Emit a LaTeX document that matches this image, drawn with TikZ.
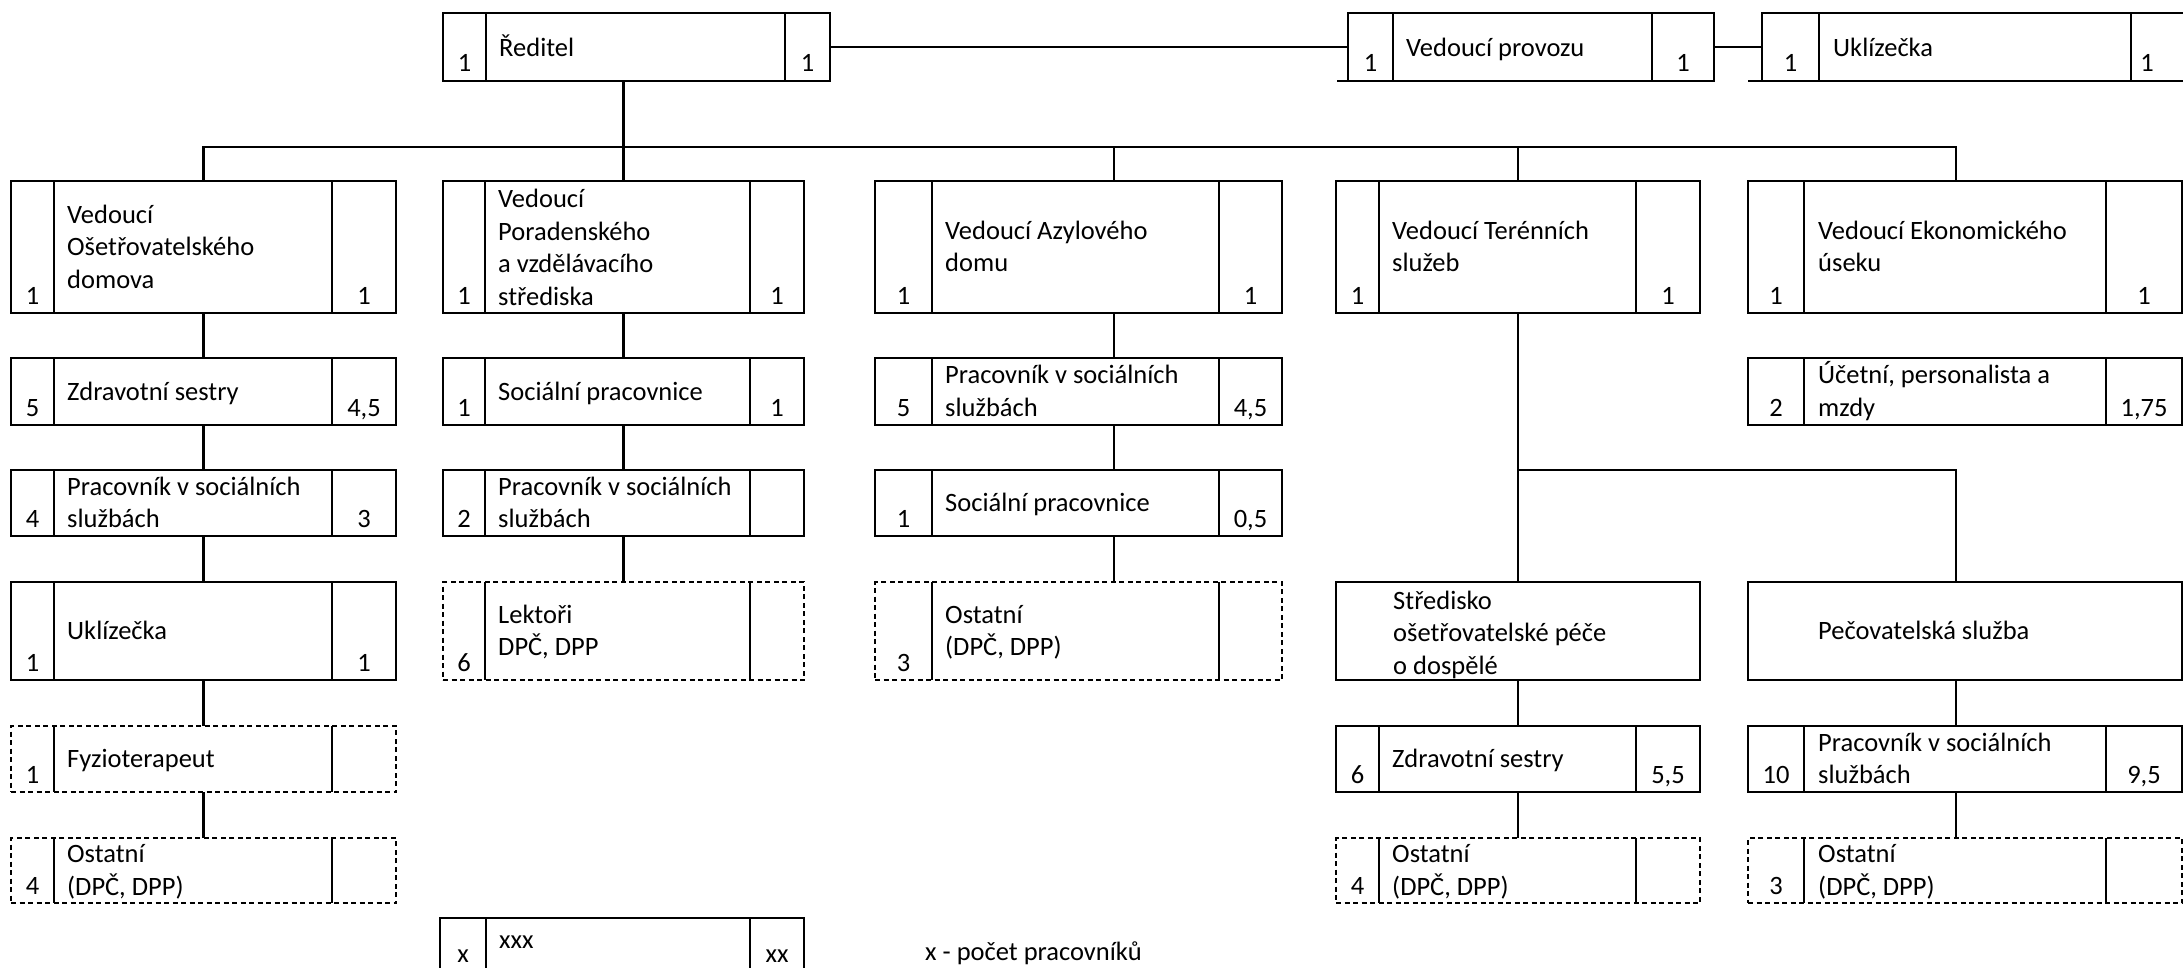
\documentclass[tikz,border=0pt]{standalone}
\usepackage{fontspec}
\setmainfont{Carlito}
\usetikzlibrary{fit}
\tikzset{
  plainnode/.style={inner sep=0pt, outer sep=0pt},
  solidbox/.style={plainnode, draw, line width=2.7pt},
  dashbox/.style={plainnode, draw, line width=2.2pt, dash pattern=on 5pt off 3.5pt},
  divline/.style={line width=2.7pt},
  conn/.style={line width=2.4pt},
  maintxt/.style={inner sep=0pt, anchor=west, align=left, font=\fontsize{26.5}{32.5}\selectfont},
  numtxt/.style={inner sep=0pt, anchor=base, font=\fontsize{26.5}{32.5}\selectfont},
}
\newcommand\obox[6]{\node[#2, fit={(#3,#4) (#5,#6)}] (#1) {};}
\newcommand\divs[4]{\draw[divline] (#1,#3) -- (#1,#4); \draw[divline] (#2,#3) -- (#2,#4);}
\begin{document}
\begin{tikzpicture}[x=1pt,y=-1pt]
\fill[white] (0,0) rectangle (2183,968);
\useasboundingbox (0,0) rectangle (2183,968);
\clip (0,0) rectangle (2183,968);

% ---------- top row
\obox{red}{solidbox}{443}{13}{830}{81} \divs{486}{785}{13}{81}
\node[maintxt] (red-t) at (499,50) {\strut Ředitel};
\node[numtxt] (red-l) at (464.5,72) {1};
\node[numtxt] (red-r) at (807.5,72) {1};

\obox{prov}{solidbox}{1348}{13}{1714}{81} \divs{1393}{1652}{13}{81}
\node[maintxt] (prov-t) at (1406,50) {\strut Vedoucí provozu};
\node[numtxt] (prov-l) at (1370.5,72) {1};
\node[numtxt] (prov-r) at (1683,72) {1};
\draw[divline] (1337,81) -- (prov.south west);

\obox{ukl}{solidbox}{1762}{13}{2200}{81} \divs{1819}{2131}{13}{81}
\node[maintxt] (ukl-t) at (1833,50) {\strut Uklízečka};
\node[numtxt] (ukl-l) at (1790.5,72) {1};
\node[numtxt] (ukl-r) at (2147,72) {1};
\draw[divline] (1748,81) -- (ukl.south west);

% ---------- column 1
\obox{a2}{solidbox}{11}{181}{396}{313} \divs{54}{332}{181}{313}
\node[maintxt] (a2-t) at (67,249) {\strut Vedoucí\\\strut Ošetřovatelského\\\strut domova};
\node[numtxt] (a2-l) at (32.5,304) {1};
\node[numtxt] (a2-r) at (364,304) {1};

\obox{a3}{solidbox}{11}{358}{396}{425} \divs{54}{332}{358}{425}
\node[maintxt] (a3-t) at (67,393.5) {\strut Zdravotní sestry};
\node[numtxt] (a3-l) at (32.5,416) {5};
\node[numtxt] (a3-r) at (364,416) {4,5};

\obox{a4}{solidbox}{11}{470}{396}{536} \divs{54}{332}{470}{536}
\node[maintxt] (a4-t) at (67,505) {\strut Pracovník v sociálních\\\strut službách};
\node[numtxt] (a4-l) at (32.5,527) {4};
\node[numtxt] (a4-r) at (364,527) {3};

\obox{a5}{solidbox}{11}{582}{396}{680} \divs{54}{332}{582}{680}
\node[maintxt] (a5-t) at (67,633) {\strut Uklízečka};
\node[numtxt] (a5-l) at (32.5,671) {1};
\node[numtxt] (a5-r) at (364,671) {1};

\obox{a6}{dashbox}{11}{726}{396}{792} \divs{54}{332}{726}{792}
\node[maintxt] (a6-t) at (67,761) {\strut Fyzioterapeut};
\node[numtxt] (a6-l) at (32.5,783) {1};

\obox{a7}{dashbox}{11}{838}{396}{903} \divs{54}{332}{838}{903}
\node[maintxt] (a7-t) at (67,872.5) {\strut Ostatní\\\strut (DPČ, DPP)};
\node[numtxt] (a7-l) at (32.5,894) {4};

% ---------- column 2
\obox{b2}{solidbox}{443}{181}{804}{313} \divs{485}{750}{181}{313}
\node[maintxt] (b2-t) at (498,250) {\strut Vedoucí\\\strut Poradenského\\\strut a vzdělávacího\\\strut střediska};
\node[numtxt] (b2-l) at (464,304) {1};
\node[numtxt] (b2-r) at (777,304) {1};

\obox{b3}{solidbox}{443}{358}{804}{425} \divs{485}{750}{358}{425}
\node[maintxt] (b3-t) at (498,393.5) {\strut Sociální pracovnice};
\node[numtxt] (b3-l) at (464,416) {1};
\node[numtxt] (b3-r) at (777,416) {1};

\obox{b4}{solidbox}{443}{470}{804}{536} \divs{485}{750}{470}{536}
\node[maintxt] (b4-t) at (498,505) {\strut Pracovník v sociálních\\\strut službách};
\node[numtxt] (b4-l) at (464,527) {2};

\obox{b5}{dashbox}{443}{582}{804}{680} \divs{485}{750}{582}{680}
\node[maintxt] (b5-t) at (498,633) {\strut Lektoři\\\strut DPČ, DPP};
\node[numtxt] (b5-l) at (464,671) {6};

% ---------- column 3
\obox{c2}{solidbox}{875}{181}{1282}{313} \divs{932}{1219}{181}{313}
\node[maintxt] (c2-t) at (945,249) {\strut Vedoucí Azylového\\\strut domu};
\node[numtxt] (c2-l) at (903.5,304) {1};
\node[numtxt] (c2-r) at (1250.5,304) {1};

\obox{c3}{solidbox}{875}{358}{1282}{425} \divs{932}{1219}{358}{425}
\node[maintxt] (c3-t) at (945,393.5) {\strut Pracovník v sociálních\\\strut službách};
\node[numtxt] (c3-l) at (903.5,416) {5};
\node[numtxt] (c3-r) at (1250.5,416) {4,5};

\obox{c4}{solidbox}{875}{470}{1282}{536} \divs{932}{1219}{470}{536}
\node[maintxt] (c4-t) at (945,505) {\strut Sociální pracovnice};
\node[numtxt] (c4-l) at (903.5,527) {1};
\node[numtxt] (c4-r) at (1250.5,527) {0,5};

\obox{c5}{dashbox}{875}{582}{1282}{680} \divs{932}{1219}{582}{680}
\node[maintxt] (c5-t) at (945,633) {\strut Ostatní\\\strut (DPČ, DPP)};
\node[numtxt] (c5-l) at (903.5,671) {3};

% ---------- column 4
\obox{d2}{solidbox}{1336}{181}{1700}{313} \divs{1379}{1636}{181}{313}
\node[maintxt] (d2-t) at (1392,249) {\strut Vedoucí Terénních\\\strut služeb};
\node[numtxt] (d2-l) at (1357.5,304) {1};
\node[numtxt] (d2-r) at (1668,304) {1};

\obox{d5}{solidbox}{1336}{582}{1700}{680}
\node[maintxt] (d5-t) at (1393,635) {\strut Středisko\\\strut ošetřovatelské péče\\\strut o dospělé};

\obox{d6}{solidbox}{1336}{726}{1700}{792} \divs{1379}{1636}{726}{792}
\node[maintxt] (d6-t) at (1392,761) {\strut Zdravotní sestry};
\node[numtxt] (d6-l) at (1357.5,783) {6};
\node[numtxt] (d6-r) at (1668,783) {5,5};

\obox{d7}{dashbox}{1336}{838}{1700}{903} \divs{1379}{1636}{838}{903}
\node[maintxt] (d7-t) at (1392,872.5) {\strut Ostatní\\\strut (DPČ, DPP)};
\node[numtxt] (d7-l) at (1357.5,894) {4};

% ---------- column 5
\obox{e2}{solidbox}{1748}{181}{2182}{313} \divs{1804}{2106}{181}{313}
\node[maintxt] (e2-t) at (1818,249) {\strut Vedoucí Ekonomického\\\strut úseku};
\node[numtxt] (e2-l) at (1776,304) {1};
\node[numtxt] (e2-r) at (2144,304) {1};

\obox{e3}{solidbox}{1748}{358}{2182}{425} \divs{1804}{2106}{358}{425}
\node[maintxt] (e3-t) at (1818,393.5) {\strut Účetní, personalista a\\\strut mzdy};
\node[numtxt] (e3-l) at (1776,416) {2};
\node[numtxt] (e3-r) at (2144,416) {1,75};

\obox{e5}{solidbox}{1748}{582}{2182}{680}
\node[maintxt] (e5-t) at (1818,633) {\strut Pečovatelská služba};

\obox{e6}{solidbox}{1748}{726}{2182}{792} \divs{1804}{2106}{726}{792}
\node[maintxt] (e6-t) at (1818,761) {\strut Pracovník v sociálních\\\strut službách};
\node[numtxt] (e6-l) at (1776,783) {10};
\node[numtxt] (e6-r) at (2144,783) {9,5};

\obox{e7}{dashbox}{1748}{838}{2182}{903} \divs{1804}{2106}{838}{903}
\node[maintxt] (e7-t) at (1818,872.5) {\strut Ostatní\\\strut (DPČ, DPP)};
\node[numtxt] (e7-l) at (1776,894) {3};

% ---------- legend
\obox{leg}{solidbox}{440}{918}{804}{985} \divs{486}{750}{918}{985}
\node[maintxt] (leg-t) at (499,941.5) {\strut xxx};
\node[numtxt] (leg-l) at (463,962) {x};
\node[numtxt] (leg-r) at (777,962) {xx};
\node[numtxt, anchor=base west] (legnote) at (925,960) {x - počet pracovníků};

% ---------- connectors
\coordinate (x3) at (1114,0);
\coordinate (x5) at (1956,0);
\coordinate (busy) at (0,147);
\coordinate (suby) at (0,470);

\draw[conn] (red.east) -- (prov.west);
\draw[conn] (prov.east) -- (ukl.west);
\draw[conn] (red.south -| b2.north) -- (b2.north);
\draw[conn] (a2.north) |- (x5 |- busy) -- (e2.north -| x5);
\draw[conn] (c2.north -| x3) -- (x3 |- busy);
\draw[conn] (d2.north) -- (d2.north |- busy);

\draw[conn] (a2.south) -- (a3.north);
\draw[conn] (a3.south) -- (a4.north);
\draw[conn] (a4.south) -- (a5.north);
\draw[conn] (a5.south) -- (a6.north);
\draw[conn] (a6.south) -- (a7.north);

\draw[conn] (b2.south) -- (b3.north);
\draw[conn] (b3.south) -- (b4.north);
\draw[conn] (b4.south) -- (b5.north);

\draw[conn] (c2.south -| x3) -- (c3.north -| x3);
\draw[conn] (c3.south -| x3) -- (c4.north -| x3);
\draw[conn] (c4.south -| x3) -- (c5.north -| x3);

\draw[conn] (d2.south) -- (d5.north);
\draw[conn] (d2.south |- suby) -| (e5.north -| x5);
\draw[conn] (d5.south) -- (d6.north);
\draw[conn] (d6.south) -- (d7.north);

\draw[conn] (e5.south -| x5) -- (e6.north -| x5);
\draw[conn] (e6.south -| x5) -- (e7.north -| x5);
\end{tikzpicture}
\end{document}
